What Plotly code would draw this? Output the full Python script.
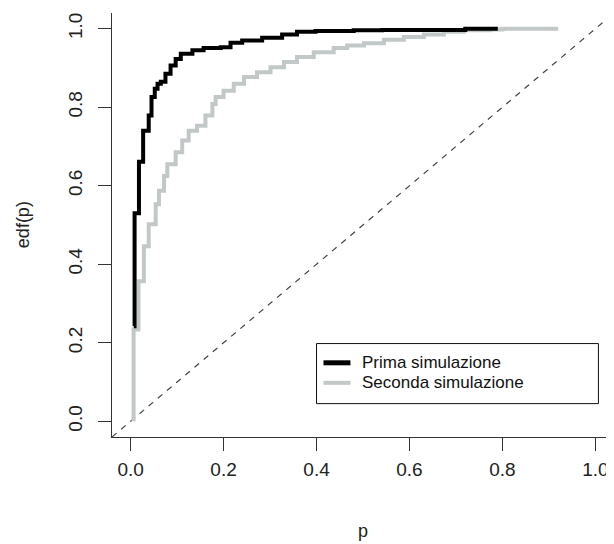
import plotly.graph_objects as go

# ECDF step points (x where jump occurs, level after jump)
prima_x = [0.007, 0.0086, 0.018, 0.027, 0.039, 0.045, 0.052, 0.058, 0.065, 0.075,
           0.086, 0.097, 0.108, 0.133, 0.157, 0.194, 0.215, 0.24, 0.283, 0.326,
           0.358, 0.398, 0.48, 0.541, 0.72, 0.79]
prima_y = [0.242, 0.530, 0.661, 0.740, 0.779, 0.826, 0.847, 0.860, 0.865, 0.885,
           0.906, 0.923, 0.936, 0.945, 0.951, 0.953, 0.964, 0.970, 0.977, 0.985,
           0.992, 0.994, 0.996, 0.997, 1.0, 1.0]

seconda_x = [0.0065, 0.0065, 0.017, 0.0286, 0.039, 0.054, 0.061, 0.072, 0.079, 0.097,
             0.111, 0.125, 0.143, 0.161, 0.176, 0.183, 0.2, 0.222, 0.244, 0.272,
             0.301, 0.33, 0.358, 0.394, 0.437, 0.466, 0.502, 0.545, 0.588, 0.631,
             0.674, 0.717, 0.774, 0.80, 0.92]
seconda_y = [0.0, 0.234, 0.357, 0.446, 0.502, 0.553, 0.587, 0.625, 0.655, 0.685,
             0.715, 0.740, 0.753, 0.779, 0.808, 0.826, 0.842, 0.860, 0.877, 0.889,
             0.902, 0.915, 0.928, 0.940, 0.951, 0.957, 0.963, 0.972, 0.979, 0.985,
             0.992, 0.996, 0.998, 1.0, 1.0]

diag = [-0.04, 1.04]
tick_vals = [0.0, 0.2, 0.4, 0.6, 0.8, 1.0]
tick_text = ["0.0", "0.2", "0.4", "0.6", "0.8", "1.0"]
legend_labels = ["Prima simulazione", "Seconda simulazione"]

BLACK = "#000000"
GRAY = "#c2c8c8"
AX = "#333333"
FONT = "Liberation Sans, Arial, sans-serif"

fig = go.Figure()
fig.add_trace(go.Scatter(x=diag, y=diag, mode="lines",
                         line=dict(color="#444444", width=1.2, dash="6px,6px"),
                         showlegend=False, hoverinfo="skip"))
fig.add_trace(go.Scatter(x=seconda_x, y=seconda_y, mode="lines", line_shape="hv",
                         line=dict(color=GRAY, width=4), showlegend=False))
fig.add_trace(go.Scatter(x=prima_x, y=prima_y, mode="lines", line_shape="hv",
                         line=dict(color=BLACK, width=4), showlegend=False))

axis_common = dict(range=[-0.04, 1.04], tickvals=tick_vals, ticktext=tick_text,
                   showgrid=False, zeroline=False, showline=True, linecolor=AX,
                   linewidth=1, ticks="outside", ticklen=13, tickcolor=AX, tickwidth=1,
                   automargin=False,
                   tickfont=dict(family=FONT, size=19, color="#222222"))

# page body has an 8px offset, margins compensate for it
fig.update_layout(
    width=614, height=544,
    margin=dict(l=104, r=8, t=5, b=115),
    paper_bgcolor="white", plot_bgcolor="white",
    xaxis=dict(**axis_common, ticklabelstandoff=2),
    yaxis=dict(**axis_common, tickangle=-90, ticklabelstandoff=8),
    showlegend=False,
)

# legend box (manual, R style)
fig.add_shape(type="rect", xref="x", yref="y", x0=0.4, x1=1.0065, y0=0.045, y1=0.198,
              line=dict(color="#111111", width=1), fillcolor="rgba(0,0,0,0)")
leg_y = [0.149, 0.098]
leg_col = [BLACK, GRAY]
leg_w = [5, 4]
for lab, yy, c, w in zip(legend_labels, leg_y, leg_col, leg_w):
    fig.add_shape(type="line", xref="x", yref="y", x0=0.415, x1=0.473, y0=yy, y1=yy,
                  line=dict(color=c, width=w))
    fig.add_annotation(x=0.4925, y=yy, xref="x", yref="y", text=lab, showarrow=False,
                       xanchor="left", yanchor="middle",
                       font=dict(family=FONT, size=17, color="#111111"))

fig.add_annotation(x=0.5, y=-0.222, xref="paper", yref="paper", text="p", showarrow=False,
                   xanchor="center", yanchor="middle",
                   font=dict(family=FONT, size=18, color="#222222"))
fig.add_annotation(x=-0.177, y=0.5, xref="paper", yref="paper", text="edf(p)",
                   showarrow=False, textangle=-90, xanchor="center", yanchor="middle",
                   font=dict(family=FONT, size=18, color="#222222"))

fig.write_html("out.html")
